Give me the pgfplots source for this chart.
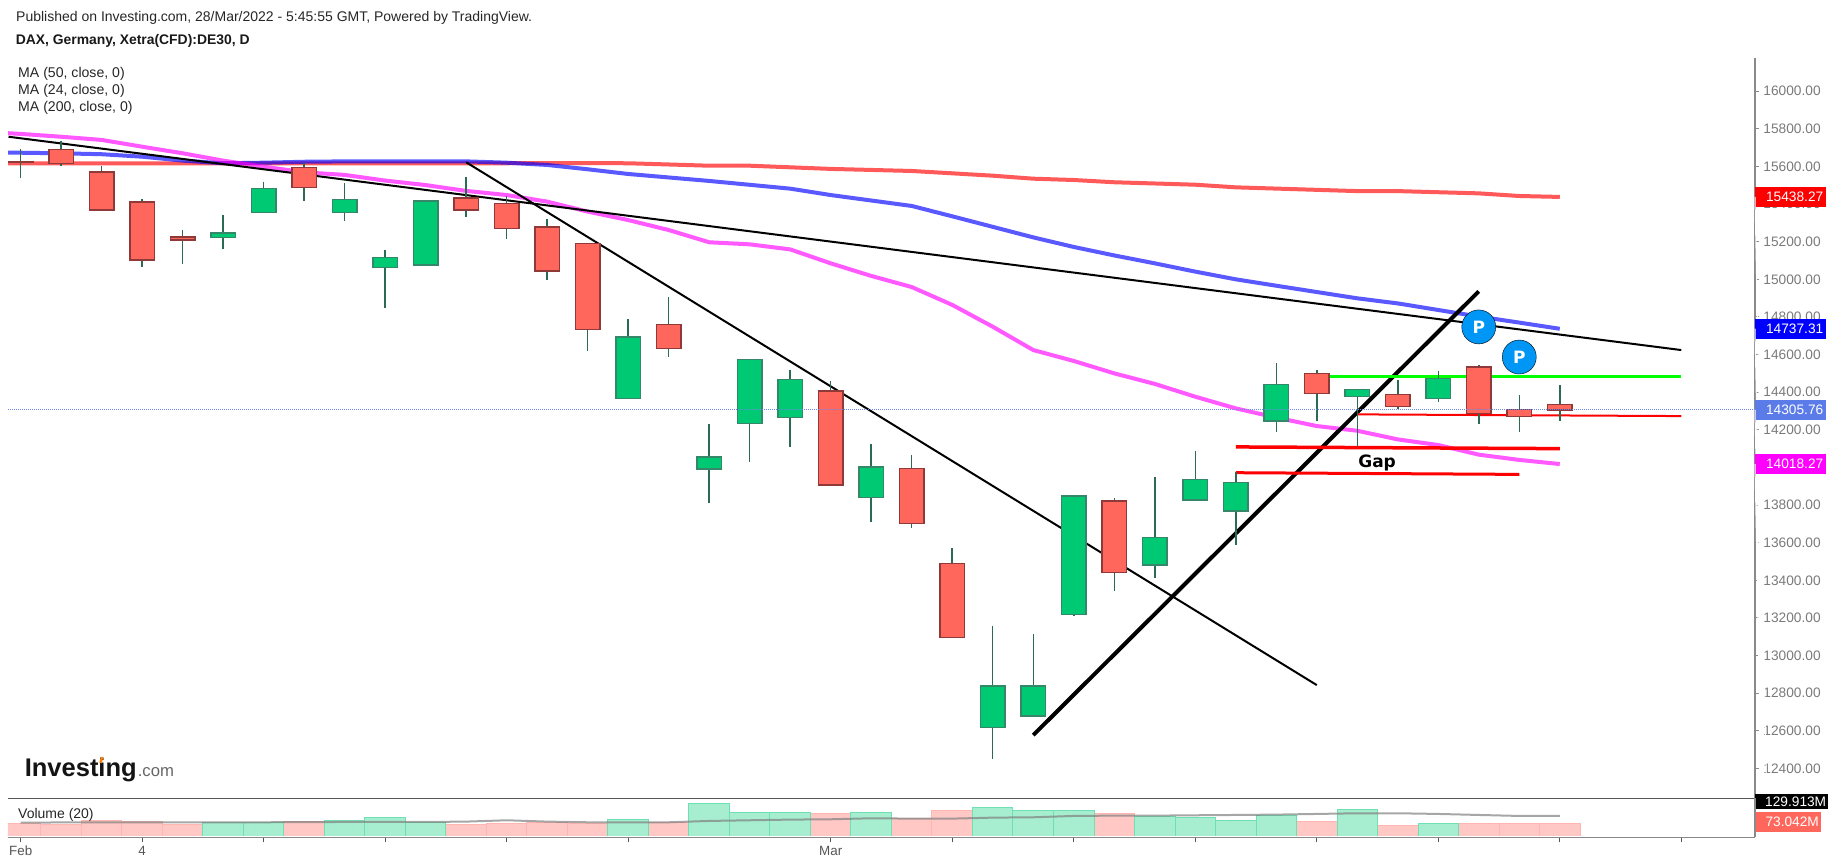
\documentclass[border=0pt]{standalone}
\usepackage{pgfplots}
\pgfplotsset{compat=1.18}
\usepackage{fontspec}
\setmainfont{Liberation Sans}
\newfontfamily\dvb{DejaVu Sans}[BoldFont={DejaVu Sans Bold}]
\definecolor{cgreen}{HTML}{00C973}
\definecolor{cgreenb}{HTML}{35876A}
\definecolor{cred}{HTML}{FF675C}
\definecolor{credb}{HTML}{8F3A38}
\definecolor{wickc}{HTML}{2A6B52}
\definecolor{lblgray}{HTML}{7A7A7A}
\definecolor{axgray}{HTML}{8A8A8A}
\definecolor{panegray}{HTML}{555555}
\definecolor{vred}{HTML}{FFC8C5}
\definecolor{vredb}{HTML}{FFB5B0}
\definecolor{vgreen}{HTML}{A6EECF}
\definecolor{vgreenb}{HTML}{6FE0B2}
\definecolor{pblue}{HTML}{0096F5}
\definecolor{lastblue}{HTML}{5B7CE8}
\definecolor{dotblue}{HTML}{6B88E8}
\definecolor{purered}{RGB}{255,0,0}
\definecolor{pureblue}{RGB}{0,0,255}
\definecolor{puremag}{RGB}{255,0,255}
\definecolor{puregreen}{RGB}{0,255,0}
\newcommand{\fs}[1]{\fontsize{#1}{#1}\selectfont}
% \candle{x}{bodytop}{bodybottom}{high}{low}{fill}{border}
\newcommand{\candle}[7]{%
  \addplot[wickc,line width=1.5pt,forget plot] coordinates {(#1,#4)(#1,#5)};
  \pgfmathsetmacro\xl{#1-0.3025}\pgfmathsetmacro\xr{#1+0.3025}%
  \addplot[fill=#6,draw=#7,line width=1.5pt,forget plot] coordinates {(\xl,#2)(\xr,#2)(\xr,#3)(\xl,#3)} -- cycle;
}
\newcommand{\G}[5]{\candle{#1}{#2}{#3}{#4}{#5}{cgreen}{cgreenb}}
\newcommand{\R}[5]{\candle{#1}{#2}{#3}{#4}{#5}{cred}{credb}}
\newcommand{\pricebox}[3]{%
  \node[anchor=west,fill=#2,text=white,minimum width=71pt,minimum height=20pt,inner sep=0pt,text depth=0pt,font=\fs{13.7}] at (axis cs:42.82,#1) {\hspace*{8pt}#3\hfill};
  \draw[white,line width=1pt] (axis cs:42.82,#1) -- ++(4.5pt,0);
}
\begin{document}
\begin{tikzpicture}[x=1pt,y=1pt]
\begin{axis}[
  at={(8pt,67.7pt)},anchor=south west,
  width=1747pt,height=740.3pt,scale only axis,
  xmin=-0.3136,xmax=42.82,ymin=12241,ymax=16176.5,
  clip mode=individual,
  axis x line*=bottom,axis y line*=right,
  xtick=\empty,
  ytick={12400,12600,12800,13000,13200,13400,13600,13800,14000,14200,14400,14600,14800,15000,15200,15400,15600,15800,16000},
  scaled y ticks=false,
  x axis line style={-,draw=panegray,line width=1.5pt},
  y axis line style={-,draw=axgray,line width=1.5pt},
  tick align=outside,major tick length=4.5pt,
  ytick style={draw=axgray,line width=1pt},
  yticklabel style={font=\fs{13.7},text=lblgray,anchor=west,inner sep=0pt,xshift=3.8pt,
    /pgf/number format/.cd,fixed,fixed zerofill,precision=2,1000 sep={},assume math mode=true},
]
% moving averages
\addplot[purered,opacity=.65,line width=4pt] coordinates {(-1,15616)(0,15616)(5,15616)(11,15616)(13,15618)(15,15617)(17,15604)(18,15604)(20,15587)(22,15576)(24,15551)(25,15535)(26,15528)(27,15516)(29,15503)(30,15489)(33,15469)(34,15469)(36,15457)(37,15443)(38,15438)};
\addplot[pureblue,opacity=.65,line width=4pt] coordinates {(-1,15676)(0,15673)(1,15670)(2,15665)(3,15652)(4,15631)(5,15617)(6,15620)(7,15625)(8,15627)(9,15627)(10,15627)(11,15627)(12,15620)(13,15608)(14,15585)(15,15560)(17,15523)(19,15482)(20,15448)(22,15390)(23,15335)(24,15279)(25,15223)(26,15172)(27,15127)(28,15085)(29,15041)(30,15000)(31,14966)(33,14899)(34,14872)(35,14837)(36,14802)(37,14770)(38,14737)};
\addplot[puremag,opacity=.65,line width=4pt] coordinates {(-1,15785)(0,15773)(1,15758)(2,15741)(3,15705)(4,15670)(5,15631)(6,15599)(7,15569)(8,15555)(9,15525)(10,15501)(11,15470)(12,15448)(13,15413)(14,15360)(15,15315)(16,15262)(17,15197)(18,15186)(19,15159)(20,15085)(21,15018)(22,14959)(23,14864)(24,14748)(25,14624)(26,14566)(27,14500)(28,14444)(29,14376)(30,14314)(31,14265)(32,14220)(33,14195)(34,14149)(35,14119)(36,14068)(37,14040)(38,14018)};
% drawn lines
\addplot[black,line width=2pt] coordinates {(-0.3,15758)(41,14624)};
\addplot[black,line width=2pt] coordinates {(11,15622)(32,12843)};
\addplot[black,line width=4pt] coordinates {(25,12577)(36,14936)};
\addplot[puregreen,line width=3pt] coordinates {(32,14482)(41,14482)};
\addplot[purered,line width=2pt] coordinates {(33,14282)(41,14273)};
\addplot[purered,line width=3.5pt] coordinates {(30,14109)(38,14100)};
\addplot[purered,line width=3pt] coordinates {(30,13972)(37,13963)};
% candles: x, body top, body bottom, high, low
\R{0}{15626}{15620}{15691}{15540}
\R{1}{15689}{15615}{15737}{15604}
\R{2}{15571}{15369}{15604}{15369}
\R{3}{15411}{15103}{15425}{15067}
\R{4}{15225}{15209}{15262}{15080}
\G{5}{15245}{15223}{15340}{15161}
\G{6}{15482}{15356}{15519}{15356}
\R{7}{15595}{15489}{15617}{15418}
\G{8}{15424}{15356}{15512}{15312}
\G{9}{15117}{15064}{15154}{14849}
\G{10}{15416}{15076}{15420}{15073}
\R{11}{15431}{15369}{15546}{15333}
\R{12}{15402}{15269}{15445}{15213}
\R{13}{15278}{15044}{15319}{14995}
\R{14}{15190}{14732}{15191}{14621}
\G{15}{14693}{14366}{14787}{14362}
\R{16}{14759}{14631}{14908}{14589}
\G{17}{14055}{13993}{14231}{13813}
\G{18}{14573}{14233}{14575}{14031}
\G{19}{14467}{14265}{14516}{14110}
\R{20}{14406}{13907}{14458}{13907}
\G{21}{14001}{13841}{14125}{13712}
\R{22}{13995}{13701}{14064}{13680}
\R{23}{13488}{13097}{13570}{13097}
\G{24}{12838}{12618}{13159}{12448}
\G{25}{12838}{12679}{13113}{12679}
\G{26}{13848}{13217}{13853}{13208}
\R{27}{13822}{13442}{13836}{13345}
\G{28}{13628}{13481}{13951}{13414}
\G{29}{13935}{13827}{14089}{13823}
\G{30}{13921}{13768}{13977}{13586}
\G{31}{14440}{14247}{14553}{14190}
\R{32}{14500}{14392}{14518}{14247}
\G{33}{14413}{14378}{14415}{14116}
\R{34}{14387}{14325}{14465}{14311}
\G{35}{14472}{14366}{14514}{14350}
\R{36}{14534}{14288}{14543}{14231}
\R{37}{14307}{14272}{14383}{14190}
\R{38}{14335}{14305}{14436}{14249}
% last price line
\addplot[dotblue,line width=1pt,dash pattern=on 1pt off 1pt] coordinates {(-0.3136,14305.76)(42.82,14305.76)};
% pattern marks
\addplot[only marks,mark=*,mark size=17pt,mark options={fill=pblue,draw=none}] coordinates {(36,14747)(37,14587)};
\node[text=white,font=\dvb\bfseries\fs{17}] at (axis cs:36,14747) {P};
\node[text=white,font=\dvb\bfseries\fs{17}] at (axis cs:37,14587) {P};
\node[anchor=base,text=black,inner sep=0pt,font=\dvb\bfseries\fs{17}] at (axis cs:33.49,14000) {Gap};
% price labels
\pricebox{15438.27}{purered}{15438.27}
\pricebox{14737.31}{pureblue}{14737.31}
\pricebox{14305.76}{lastblue}{14305.76}
\pricebox{14018.27}{puremag}{14018.27}
\end{axis}
\begin{axis}[
  at={(8pt,28.7pt)},anchor=south west,
  width=1747pt,height=39pt,scale only axis,
  xmin=-0.3136,xmax=42.82,ymin=35.1,ymax=146,
  clip mode=individual,axis on top,
  axis x line*=bottom,axis y line*=right,
  ytick=\empty,
  xtick={0,3,6,9,12,15,20,23,26,29,32,35,38,41},
  xticklabels={Feb,4,,,,,Mar,,,,,,,},
  x axis line style={-,draw=axgray,line width=1.5pt},
  y axis line style={-,draw=axgray,line width=1.5pt},
  tick align=outside,major tick length=5pt,
  xtick style={draw=panegray,line width=1pt},
  xticklabel style={font=\fs{13.4},text=panegray,inner sep=0pt,yshift=-3.5pt},
]
\addplot[ybar,bar width=1,bar shift=0pt,fill=vred,draw=vredb,line width=1pt] coordinates {(0,75.0)(1,70.2)(2,83.5)(3,79.7)(4,70.2)(7,79.7)(11,70.2)(12,73.0)(13,76.8)(14,73.0)(16,76.8)(20,101.5)(22,88.2)(23,111.9)(27,101.5)(32,79.7)(34,69.2)(36,73.0)(37,73.0)(38,73.0)};
\addplot[ybar,bar width=1,bar shift=0pt,fill=vgreen,draw=vgreenb,line width=1pt] coordinates {(5,76.8)(6,76.8)(8,83.5)(9,90.1)(10,76.8)(15,86.3)(17,129.9)(18,104.3)(19,104.3)(21,104.3)(24,118.5)(25,111.9)(26,111.9)(28,93.9)(29,90.1)(30,83.5)(31,97.7)(33,114.8)(35,73.0)};
\addplot[gray,opacity=.7,line width=2pt] coordinates {(0,76.8)(2,77.8)(4,77.8)(6,77.8)(8,78.7)(10,78.7)(11,79.7)(12,83.5)(13,79.7)(14,77.8)(15,77.8)(16,77.8)(17,81.6)(18,83.5)(19,85.4)(20,86.3)(21,89.2)(22,88.2)(23,88.2)(24,91.0)(25,92.0)(26,95.8)(27,96.7)(28,96.7)(29,97.7)(30,98.6)(31,99.6)(32,101.5)(33,103.4)(34,103.4)(35,101.5)(36,98.6)(37,95.8)(38,95.8)};
\addplot[fill=white,draw=none] coordinates {(-0.3136,35.1)(42.82,35.1)(42.82,39.9)(-0.3136,39.9)} -- cycle;
\node[anchor=west,fill=black,text=white,minimum width=73pt,minimum height=15pt,inner sep=0pt,font=\fs{13.7}] at (axis cs:42.82,137) {\hspace*{8pt}129.913M\hfill};
\node[anchor=west,fill=cred,text=white,minimum width=66pt,minimum height=20pt,inner sep=0pt,font=\fs{13.7}] at (axis cs:42.82,78.5) {\hspace*{8pt}73.042M\hfill};
\end{axis}
\node[anchor=west,inner sep=0pt,font=\fs{14},text=black!85] at (16pt,848.5pt) {Published on Investing.com, 28/Mar/2022 - 5:45:55 GMT, Powered by TradingView.};
\node[anchor=west,inner sep=0pt,font=\bfseries\fs{13.9},text=black!90] at (15.6pt,825.3pt) {DAX, Germany, Xetra(CFD):DE30, D};
\node[anchor=west,inner sep=0pt,font=\fs{14.1},text=black!85] at (18pt,792.3pt) {MA (50, close, 0)};
\node[anchor=west,inner sep=0pt,font=\fs{14.1},text=black!85] at (18pt,775.3pt) {MA (24, close, 0)};
\node[anchor=west,inner sep=0pt,font=\fs{14.1},text=black!85] at (18pt,758.3pt) {MA (200, close, 0)};
\node[anchor=west,inner sep=0pt,font=\fs{14},text=black!85] at (18pt,51pt) {Volume (20)};
% logo
\node[anchor=base west,inner sep=0pt,font=\bfseries\fs{25.5},text=black!92] at (24.6pt,89pt) {Investing};
\node[anchor=base west,inner sep=0pt,font=\fs{16.7},text=black!60] at (137.6pt,89pt) {.com};
\draw[orange,line width=2.4pt] (100.5pt,103pt) -- (102pt,109pt);
\pgfresetboundingbox
\path[use as bounding box] (0,0) rectangle (1836pt,866pt);
\end{tikzpicture}
\end{document}
